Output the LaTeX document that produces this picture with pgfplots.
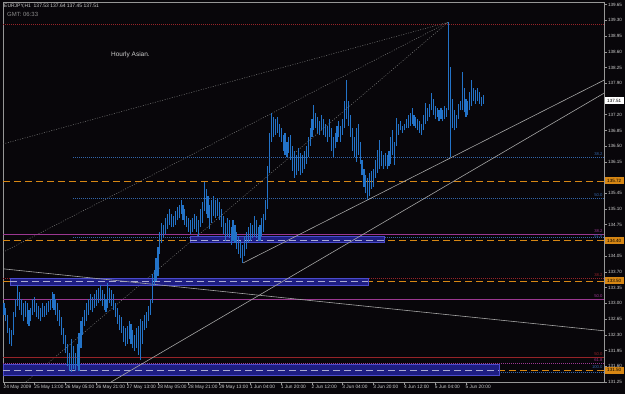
\documentclass[border=0pt]{standalone}
\usepackage{pgfplots}
\pgfplotsset{compat=1.18}
\usepackage{pgfplotstable}
\usepackage{fontspec}
\setmainfont{Liberation Sans}
\definecolor{bg}{RGB}{8,6,10}
\definecolor{barblue}{RGB}{35,115,200}
\definecolor{fibred}{RGB}{150,35,40}
\definecolor{fibmag}{RGB}{155,55,145}
\definecolor{fibblue}{RGB}{50,100,170}
\definecolor{orng}{RGB}{215,135,20}
\definecolor{zonefill}{RGB}{30,30,130}
\definecolor{zoneedge}{RGB}{75,75,205}
\definecolor{zonedash}{RGB}{170,170,210}
\definecolor{trendgray}{RGB}{165,165,165}
\definecolor{fangray}{RGB}{120,120,120}
\definecolor{framegray}{RGB}{150,150,150}
\definecolor{txtgray}{RGB}{205,205,205}

\pgfplotstableread{
i hi lo
0 133.00 132.75
1 132.90 132.60
2 132.75 132.35
3 132.45 132.10
4 132.40 132.05
5 132.80 132.30
6 133.10 132.70
7 133.40 132.95
8 133.25 132.85
9 133.10 132.75
10 133.00 132.60
11 133.05 132.70
12 133.00 132.55
13 132.85 132.50
14 132.90 132.60
15 133.10 132.75
16 133.15 132.80
17 133.00 132.70
18 132.95 132.65
19 132.90 132.60
20 133.00 132.70
21 132.95 132.70
22 133.00 132.75
23 133.05 132.80
24 133.10 132.85
25 133.25 132.90
26 133.20 132.85
27 133.10 132.75
28 133.00 132.60
29 132.85 132.50
30 132.70 132.30
31 132.45 132.10
32 132.30 131.90
33 132.10 131.60
34 131.90 131.50
35 132.20 131.47
36 132.05 131.55
37 131.90 131.50
38 132.10 131.60
39 132.35 131.50
40 132.60 132.00
41 132.70 132.30
42 132.85 132.50
43 133.00 132.60
44 133.10 132.75
45 133.20 132.85
46 133.15 132.80
47 133.20 132.90
48 133.30 132.95
49 133.35 133.00
50 133.42 133.05
51 133.30 132.95
52 133.20 132.85
53 133.10 132.80
54 133.45 132.90
55 133.35 133.00
56 133.30 132.95
57 133.20 132.85
58 133.00 132.70
59 132.90 132.55
60 132.75 132.40
61 132.70 132.35
62 132.50 132.15
63 132.45 132.05
64 132.50 132.10
65 132.60 132.20
66 132.55 132.10
67 132.40 132.00
68 132.30 131.95
69 132.45 132.00
70 132.50 131.85
71 132.65 131.74
72 132.60 132.10
73 132.75 132.40
74 132.80 132.45
75 132.95 132.60
76 133.10 132.75
77 133.65 133.00
78 133.75 133.40
79 134.00 133.50
80 134.25 133.60
81 134.60 134.10
82 134.80 134.35
83 134.75 134.45
84 134.90 134.55
85 135.00 134.65
86 135.10 134.75
87 135.00 134.70
88 134.95 134.70
89 135.05 134.75
90 135.15 134.85
91 135.20 134.90
92 135.30 135.00
93 135.20 134.85
94 135.10 134.75
95 134.95 134.70
96 134.90 134.60
97 134.85 134.55
98 134.90 134.60
99 135.00 134.65
100 134.95 134.60
101 134.85 134.50
102 135.10 134.70
103 135.25 134.80
104 135.70 135.05
105 135.55 135.00
106 135.40 134.90
107 135.20 134.65
108 135.30 134.80
109 135.40 134.95
110 135.30 134.90
111 135.35 134.95
112 135.25 134.85
113 135.10 134.70
114 134.95 134.55
115 134.80 134.40
116 134.90 134.50
117 134.85 134.45
118 134.70 134.30
119 134.85 134.40
120 134.75 134.35
121 134.60 134.20
122 134.50 134.10
123 134.40 134.00
124 134.30 133.90
125 134.50 134.05
126 134.60 134.20
127 134.70 134.35
128 134.80 134.40
129 134.75 134.45
130 134.95 134.50
131 134.85 134.45
132 134.70 134.40
133 134.75 134.40
134 134.90 134.50
135 135.00 134.60
136 135.30 134.85
137 136.05 135.10
138 136.80 135.90
139 137.24 136.60
140 137.15 136.70
141 137.10 136.75
142 137.15 136.80
143 137.00 136.70
144 136.90 136.60
145 136.75 136.40
146 136.80 136.30
147 136.60 136.25
148 136.70 136.35
149 136.75 136.20
150 136.50 135.95
151 136.40 135.80
152 136.30 135.85
153 136.45 135.95
154 136.35 135.85
155 136.30 135.90
156 136.40 136.00
157 136.50 136.10
158 136.70 136.25
159 136.90 136.50
160 137.10 136.70
161 137.42 136.85
162 137.25 136.90
163 137.15 136.80
164 137.05 136.75
165 137.20 136.85
166 137.10 136.75
167 137.00 136.70
168 136.95 136.60
169 137.10 136.70
170 136.90 136.40
171 136.70 136.26
172 136.80 136.45
173 136.95 136.60
174 137.05 136.70
175 136.95 136.60
176 137.10 136.75
177 137.50 136.90
178 137.97 137.10
179 137.50 136.95
180 137.20 136.70
181 136.90 136.40
182 136.70 136.25
183 136.90 136.15
184 137.00 136.30
185 136.60 136.10
186 136.20 135.85
187 136.00 135.60
188 135.85 135.45
189 135.80 135.30
190 135.90 135.40
191 135.95 135.55
192 136.00 135.60
193 136.20 135.80
194 136.42 135.90
195 136.64 136.00
196 136.40 136.05
197 136.30 136.00
198 136.35 136.05
199 136.30 136.00
200 136.40 136.05
201 136.70 136.10
202 136.86 136.30
203 136.60 136.08
204 137.13 136.50
205 137.00 136.75
206 137.05 136.85
207 136.95 136.80
208 137.00 136.85
209 137.10 136.90
210 137.20 136.90
211 137.25 136.95
212 137.35 137.00
213 137.20 136.95
214 137.15 136.90
215 137.10 136.85
216 137.05 136.80
217 137.00 136.75
218 137.20 136.85
219 137.46 137.00
220 137.35 137.05
221 137.45 137.15
222 137.68 137.30
223 137.55 137.20
224 137.40 137.10
225 137.35 137.15
226 137.30 137.05
227 137.35 137.10
228 137.30 137.05
229 137.40 137.10
230 137.35 137.15
231 139.26 137.30
232 138.26 136.26
233 137.55 136.90
234 137.30 136.85
235 137.20 136.90
236 137.45 137.10
237 137.50 137.30
238 138.15 137.30
239 137.80 137.25
240 137.55 137.15
241 137.50 137.20
242 137.70 137.30
243 137.97 137.40
244 137.80 137.50
245 137.75 137.45
246 137.80 137.50
247 137.70 137.45
248 137.60 137.40
249 137.64 137.45
}\bars

\begin{document}
\begin{tikzpicture}[x=1bp,y=1bp]
\path[use as bounding box, fill=bg] (0,0) rectangle (625,394);
\begin{axis}[
  at={(3bp,12bp)}, anchor=south west,
  scale only axis, width=601bp, height=380bp,
  xmin=-0.5, xmax=311.7, ymin=131.25, ymax=139.71,
  axis line style={framegray, line width=0.7bp},
  tick style={framegray, line width=0.6bp},
  tick align=outside, major tick length=3bp,
  xtick pos=bottom, ytick pos=right, yticklabel pos=right,
  xtick={0,16,...,240},
  xticklabels={24 May 2009,25 May 13:00,26 May 05:00,26 May 21:00,27 May 13:00,28 May 05:00,28 May 21:00,29 May 13:00,1 Jun 04:00,1 Jun 20:00,2 Jun 12:00,3 Jun 04:00,3 Jun 20:00,4 Jun 12:00,5 Jun 04:00,5 Jun 20:00},
  xticklabel style={font=\fontsize{4.8}{5}\selectfont, text=txtgray, anchor=north west, xshift=-1bp, yshift=1bp, inner sep=0.5bp},
  ytick={131.25,131.60,131.95,132.30,132.65,133.00,133.35,133.70,134.05,134.40,134.75,135.10,135.45,135.80,136.15,136.50,136.85,137.20,137.55,137.90,138.25,138.60,138.95,139.30,139.65},
  yticklabels={131.25,131.60,131.95,132.30,132.65,133.00,133.35,133.70,134.05,{},134.75,135.10,135.45,{},136.15,136.50,136.85,137.20,{},137.90,138.25,138.60,138.95,139.30,139.65},
  yticklabel style={font=\fontsize{4.6}{5}\selectfont, text=txtgray, anchor=west, inner sep=0.8bp},
  clip=true,
]
% fan (dotted) lines
\addplot[fangray, line width=0.5bp, dash pattern=on 1bp off 1.5bp] coordinates {(-0.5,136.55) (230.7,139.26)};
\addplot[fangray, line width=0.5bp, dash pattern=on 1bp off 1.5bp] coordinates {(-0.5,134.14) (230.7,139.26)};
\addplot[fangray, line width=0.5bp, dash pattern=on 1bp off 1.5bp] coordinates {(11.4,131.25) (230.7,139.26)};
% fib / level lines
\addplot[fibred, line width=0.5bp, dash pattern=on 1bp off 1bp] coordinates {(-0.5,139.215) (311.7,139.215)};
\addplot[fibblue, line width=0.5bp, dash pattern=on 1bp off 1bp] coordinates {(36,136.26) (311.7,136.26)};
\addplot[fibblue, line width=0.5bp, dash pattern=on 1bp off 1bp] coordinates {(36,135.34) (311.7,135.34)};
\addplot[fibblue, line width=0.5bp, dash pattern=on 1bp off 1bp] coordinates {(36,134.47) (311.7,134.47)};
\addplot[fibmag, line width=0.6bp] coordinates {(-0.5,134.54) (311.7,134.54)};
\addplot[fibred, line width=0.5bp, dash pattern=on 1bp off 1bp] coordinates {(-0.5,133.56) (311.7,133.56)};
\addplot[fibmag, line width=0.6bp] coordinates {(-0.5,133.085) (311.7,133.085)};
\addplot[fibred, line width=0.5bp] coordinates {(-0.5,131.80) (311.7,131.80)};
\addplot[fibmag, line width=0.5bp, dash pattern=on 1bp off 1bp] coordinates {(-0.5,131.67) (311.7,131.67)};
\addplot[fibblue, line width=0.5bp, dash pattern=on 1bp off 1bp] coordinates {(257,131.46) (311.7,131.46)};
% orange dashed
\addplot[orng, line width=0.8bp, dash pattern=on 7bp off 4bp] coordinates {(-0.5,135.725) (311.7,135.725)};
\addplot[orng, line width=0.8bp, dash pattern=on 7bp off 4bp] coordinates {(-0.5,134.40) (311.7,134.40)};
\addplot[orng, line width=0.8bp, dash pattern=on 7bp off 4bp] coordinates {(-0.5,133.50) (311.7,133.50)};
\addplot[orng, line width=0.8bp, dash pattern=on 7bp off 4bp] coordinates {(-0.5,131.51) (311.7,131.51)};
% zones
\addplot[fill=zonefill, draw=zoneedge, line width=0.6bp] coordinates {(96.6,134.37) (197.4,134.37) (197.4,134.49) (96.6,134.49)} -- cycle;
\addplot[fill=zonefill, draw=zoneedge, line width=0.6bp] coordinates {(3.1,133.40) (189.1,133.40) (189.1,133.555) (3.1,133.555)} -- cycle;
\addplot[fill=zonefill, draw=zoneedge, line width=0.6bp] coordinates {(-0.5,131.405) (257.2,131.405) (257.2,131.65) (-0.5,131.65)} -- cycle;
\addplot[zonedash, line width=0.8bp, dash pattern=on 7bp off 4bp] coordinates {(96.6,134.40) (197.4,134.40)};
\addplot[zonedash, line width=0.8bp, dash pattern=on 7bp off 4bp] coordinates {(3.1,133.50) (189.1,133.50)};
\addplot[zonedash, line width=0.8bp, dash pattern=on 7bp off 4bp] coordinates {(-0.5,131.51) (257.2,131.51)};
% trend lines
\addplot[trendgray, line width=0.6bp] coordinates {(-0.5,133.77) (311.7,132.39)};
\addplot[trendgray, line width=0.6bp] coordinates {(124.2,133.90) (311.7,137.97)};
\addplot[trendgray, line width=0.6bp] coordinates {(55.6,131.25) (311.7,137.68)};
% price bars (high-low segments)
\addplot[barblue, line width=1.1bp, -, quiver={u=0, v=\thisrow{hi}-\thisrow{lo}}]
  table[x=i, y=lo] {\bars};
% anchors for right labels
\coordinate (r1) at (axis cs:311.7,137.51);
\coordinate (r2) at (axis cs:311.7,135.725);
\coordinate (r3) at (axis cs:311.7,134.40);
\coordinate (r4) at (axis cs:311.7,133.50);
\coordinate (r5) at (axis cs:311.7,131.51);
\end{axis}
% price boxes
\tikzset{pbox/.style={anchor=west, inner sep=0pt, minimum height=7bp, minimum width=19bp, font=\fontsize{4.6}{5}\selectfont, text=black}}
\node[pbox, fill=white] at ([xshift=0.5bp]r1) {137.51};
\node[pbox, fill=orng] at ([xshift=0.5bp]r2) {135.72};
\node[pbox, fill=orng] at ([xshift=0.5bp]r3) {134.40};
\node[pbox, fill=orng] at ([xshift=0.5bp]r4) {133.50};
\node[pbox, fill=orng] at ([xshift=0.5bp]r5) {131.50};
% fib labels (right ends)
\tikzset{flab/.style={anchor=south east, inner sep=0.3bp, font=\fontsize{4.2}{4.5}\selectfont}}
\node[flab, text=fibblue] at (603,394-156.5) {38.2};
\node[flab, text=fibblue] at (603,394-197.5) {50.0};
\node[flab, text=fibmag] at (603,394-233.5) {38.2};
\node[flab, text=fibblue, anchor=north east] at (603,394-234.5) {61.8};
\node[flab, text=fibred] at (603,394-277.5) {38.2};
\node[flab, text=fibmag] at (603,394-298.5) {50.0};
\node[flab, text=fibred] at (603,394-356.5) {50.0};
\node[flab, text=fibmag] at (603,394-362.5) {61.8};
\node[flab, text=fibblue] at (603,394-369) {100.0};
% header texts
\node[anchor=west, inner sep=0pt, text=txtgray, font=\fontsize{5}{6}\selectfont] at (4,394-6) {EURJPY,H1\ \ 137.53 137.64 137.45 137.51};
\node[anchor=west, inner sep=0pt, text=gray!90, font=\fontsize{6}{7}\selectfont] at (7,394-14) {GMT: 06:33};
\node[anchor=west, inner sep=0pt, text=txtgray, font=\fontsize{6.5}{7}\selectfont] at (111,394-55) {Hourly Asian.};
\end{tikzpicture}
\end{document}
